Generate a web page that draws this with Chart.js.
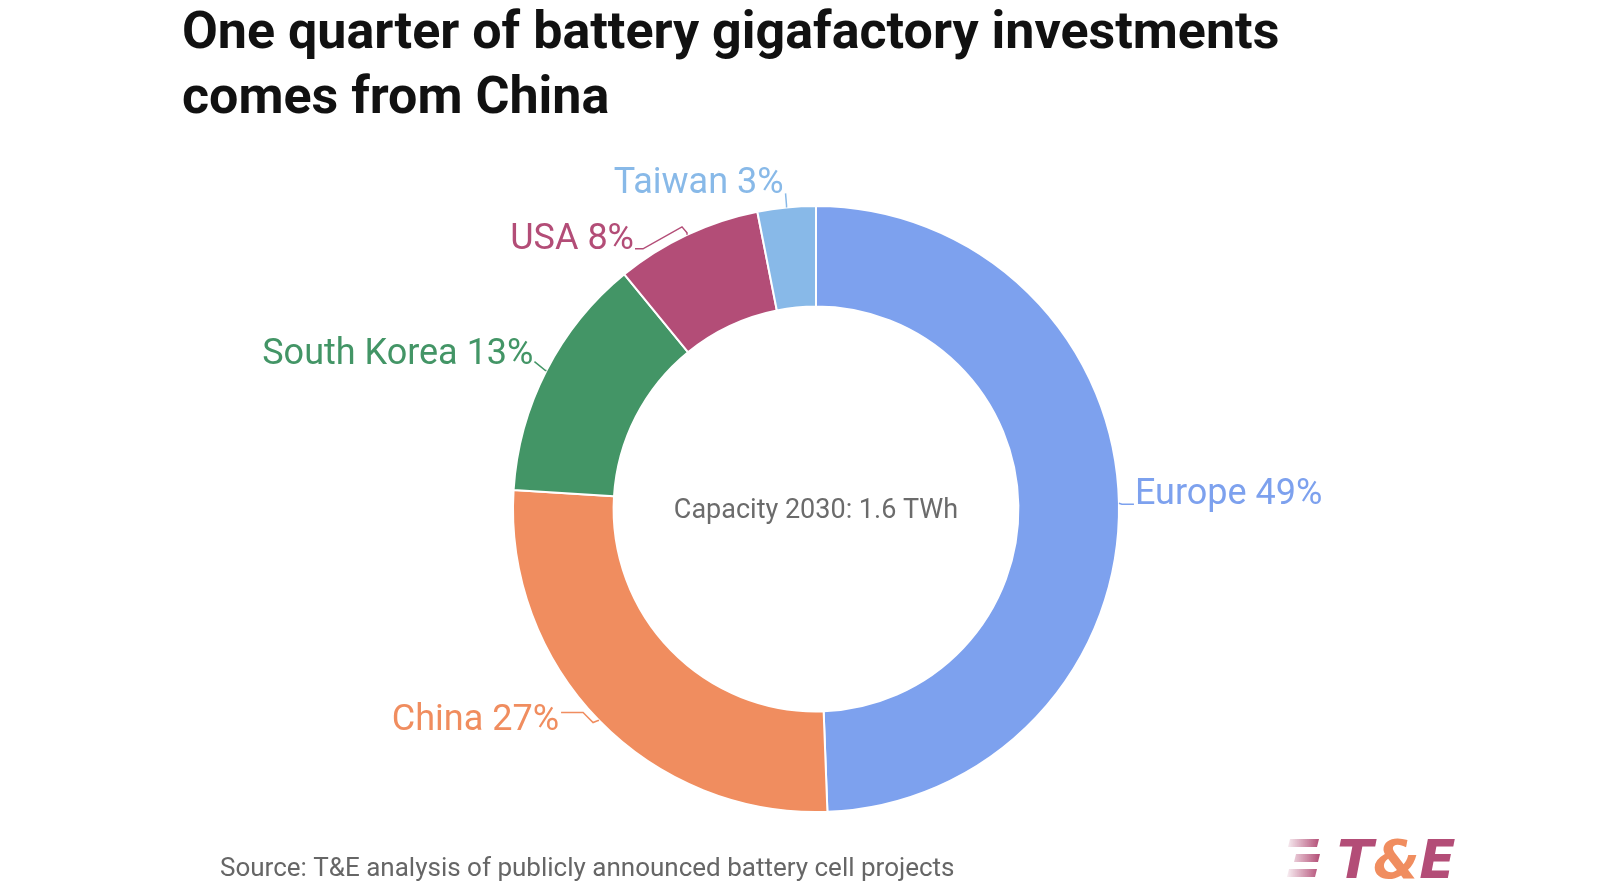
<!DOCTYPE html>
<html>
<head>
<meta charset="utf-8">
<script src="https://cdn.jsdelivr.net/npm/chart.js@4"></script>
<style>
  html, body { margin: 0; padding: 0; background: #ffffff; }
  #wrap { position: relative; width: 1600px; height: 890px; }
  canvas { display: block; }
</style>
</head>
<body>
<div id="wrap"><canvas id="c" width="1600" height="890"></canvas></div>
<script>
// ---- data ----
const categories = ['Europe', 'China', 'South Korea', 'USA', 'Taiwan'];
const shares = [49.4, 26.6, 13.1, 7.8, 3.1];
const colors = ['#7DA1EE', '#F08D5F', '#439566', '#B34D77', '#88B9E8'];
const titleLines = ['One quarter of battery gigafactory investments', 'comes from China'];
const centerText = 'Capacity 2030: 1.6 TWh';
const sourceText = 'Source: T&E analysis of publicly announced battery cell projects';

// ---- label layout (offsets relative to each arc's outer mid-point) ----
const labelLayout = [
  { leader: [[3, 1], [15, 1]], text: [16, 1], align: 'left' },
  { leader: [[-1, 0], [-6, 2], [-16, -8], [-38, -8]], text: [-40, 9], align: 'right' },
  { leader: [[-1, 0], [-12, -9]], text: [-13, -7], align: 'right' },
  { leader: [[0, -2], [-5, -8], [-44, 14], [-52, 14]], text: [-53, 14], align: 'right' },
  { leader: [[0, -2], [-1, -14]], text: [-3, -14], align: 'right' }
];

const annotate = {
  id: 'annotate',
  afterDraw(chart) {
    const ctx = chart.ctx;
    const meta = chart.getDatasetMeta(0);
    ctx.save();
    // title
    ctx.fillStyle = '#111111';
    ctx.font = 'bold 52px Roboto';
    ctx.textAlign = 'left';
    ctx.textBaseline = 'alphabetic';
    ctx.fillText(titleLines[0], 182, 48);
    ctx.fillText(titleLines[1], 182, 113);

    // centre text
    const a0 = meta.data[0];
    ctx.fillStyle = '#6b6b6b';
    ctx.font = '27px Roboto';
    ctx.textAlign = 'center';
    ctx.textBaseline = 'middle';
    ctx.fillText(centerText, a0.x, a0.y + 2);

    // slice labels
    meta.data.forEach((arc, i) => {
      const p = arc.getProps(['x', 'y', 'startAngle', 'endAngle', 'outerRadius'], true);
      const mid = (p.startAngle + p.endAngle) / 2;
      const ax = p.x + Math.cos(mid) * p.outerRadius;
      const ay = p.y + Math.sin(mid) * p.outerRadius;
      const lay = labelLayout[i];
      ctx.strokeStyle = colors[i];
      ctx.lineWidth = 1.5;
      ctx.beginPath();
      ctx.moveTo(ax, ay);
      lay.leader.forEach(pt => ctx.lineTo(ax + pt[0], ay + pt[1]));
      ctx.stroke();
      ctx.fillStyle = colors[i];
      ctx.font = '36px Roboto';
      ctx.textAlign = lay.align;
      ctx.textBaseline = 'alphabetic';
      ctx.fillText(categories[i] + ' ' + Math.round(shares[i]) + '%', ax + lay.text[0], ay + lay.text[1]);
    });

    // source
    ctx.fillStyle = '#666666';
    ctx.font = '26px Roboto';
    ctx.textAlign = 'left';
    ctx.textBaseline = 'alphabetic';
    ctx.fillText(sourceText, 220, 876);

    // logo stripes
    const grad = ctx.createLinearGradient(1288, 0, 1320, 0);
    grad.addColorStop(0, 'rgba(179,77,118,0.12)');
    grad.addColorStop(1, 'rgba(179,77,118,1)');
    ctx.fillStyle = grad;
    const stripes = [[1290, 839, 28], [1296, 854, 23], [1289, 869, 27]];
    stripes.forEach(s => {
      ctx.beginPath();
      ctx.moveTo(s[0], s[1]);
      ctx.lineTo(s[0] + s[2] + 1, s[1]);
      ctx.lineTo(s[0] + s[2] - 1, s[1] + 8);
      ctx.lineTo(s[0] - 2, s[1] + 8);
      ctx.closePath();
      ctx.fill();
    });
    // logo text
    ctx.font = 'italic bold 53px "DejaVu Sans"';
    ctx.textAlign = 'left';
    let lx = 1337;
    const parts = [['T', '#B34D77'], ['&', '#F08D5F'], ['E', '#B34D77']];
    parts.forEach(pt => {
      ctx.fillStyle = pt[1];
      ctx.fillText(pt[0], lx, 878);
      lx += ctx.measureText(pt[0]).width;
    });
    ctx.restore();
  }
};

new Chart(document.getElementById('c'), {
  type: 'doughnut',
  data: {
    labels: categories,
    datasets: [{
      data: shares,
      backgroundColor: colors,
      borderColor: '#ffffff',
      borderWidth: 2
    }]
  },
  options: {
    responsive: false,
    animation: false,
    events: [],
    cutout: '66.8%',
    layout: { padding: { top: 205, bottom: 77, left: 512, right: 480 } },
    plugins: { legend: { display: false }, tooltip: { enabled: false }, title: { display: false } }
  },
  plugins: [annotate]
});
</script>
</body>
</html>
